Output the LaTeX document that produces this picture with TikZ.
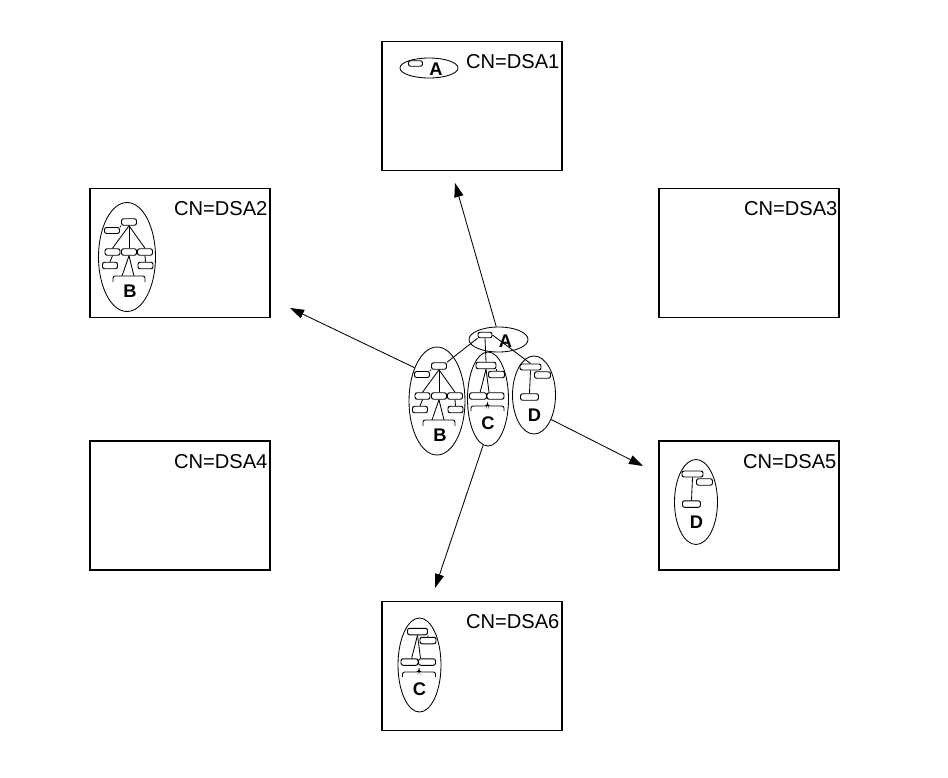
\documentclass[tikz,border=0pt]{standalone}
\usepackage{fontspec}
\setmainfont{Liberation Sans}
\usetikzlibrary{positioning,calc,arrows.meta,shapes.geometric}

\begin{document}
\begin{tikzpicture}[x=0.025cm, y=-0.025cm,
    every node/.style={font=\fontsize{14.3}{16}\selectfont},
    dsa/.style={rectangle, draw, line width=0.9pt, minimum width=4.5cm, minimum height=3.22cm, inner sep=0pt},
    cn/.style={inner sep=0pt},
    ell/.style 2 args={ellipse, draw, line width=0.6pt, minimum width=#1*0.025cm, minimum height=#2*0.025cm, inner sep=0pt},
    leaf/.style 2 args={rectangle, draw, rounded corners=1.5pt, fill=white, line width=0.7pt, minimum width=#1*0.025cm, minimum height=#2*0.025cm, inner sep=0pt},
    tag/.style={font=\fontsize{13}{15}\selectfont\bfseries, inner sep=0pt},
    link/.style={line width=0.6pt},
    arr/.style={-{Triangle[length=10pt,width=6.5pt]}, line width=0.6pt},
    treeA/.pic={
      \node[leaf={14}{5.5}] (-r) at (-13.5,-4.5) {};
      \node[tag] (-lbl) at (7,1.5) {A};
    },
    treeB/.pic={
      \node[leaf={15}{6.5}] (-r) at (2,-35) {};
      \node[leaf={15}{6}] (-l) at (-15,-26.5) {};
      \node[leaf={15}{6.5}] (-m1) at (-14.5,-5) {};
      \node[leaf={15}{6.5}] (-m2) at (2,-5) {};
      \node[leaf={15}{6.5}] (-m3) at (18,-5) {};
      \node[leaf={15}{6.5}] (-b1) at (-17,8.5) {};
      \node[leaf={15}{6.5}] (-b3) at (18.5,8.5) {};
      \coordinate (-kl) at (-5,19);
      \coordinate (-kr) at (7,19);
      \draw[link] (-r.south west) -- (-l.north east);
      \draw[link] (-r.south) -- (-m1.north);
      \draw[link] (-r.south) -- (-m2.north);
      \draw[link] (-r.south) -- (-m3.north);
      \draw[link] (-m1.south) -- (-b1.north);
      \draw[link] (-m3.south) -- (-b3.north);
      \draw[link] (-m2.south) -- (-kl);
      \draw[link] (-m2.south) -- (-kr);
      \draw[link, rounded corners=1.5pt] (-14,25) |- (18,19) -- (18,25);
      \node[tag] (-lbl) at (3,34) {B};
    },
    treeC/.pic={
      \node[leaf={20}{6.5}] (-r) at (-2,-33.5) {};
      \node[leaf={16}{6.5}] (-c) at (8.5,-24.5) {};
      \node[leaf={17}{6.5}] (-m1) at (-10,-3) {};
      \node[leaf={17}{6.5}] (-m2) at (7.5,-3) {};
      \draw[link] (-r.south) -- (-m1.60);
      \draw[link] (-r.south) -- (-m2.150);
      \draw[link] (-r.south east) -- (-c.north);
      \draw[link, rounded corners=1.5pt] (-17,12) |- (-1,7) -- (-0.5,4) -- (0,7) -| (16,12);
      \node[tag] (-lbl) at (0,24) {C};
    },
    treeD/.pic={
      \node[leaf={21}{6}] (-r) at (-3.5,-28) {};
      \node[leaf={16}{6.5}] (-c) at (8.5,-20) {};
      \node[leaf={18}{6.5}] (-b) at (-4.5,2) {};
      \draw[link] (-r.south) -- (-b.north);
      \node[tag] (-lbl) at (0.5,20.5) {D};
    }
]
\useasboundingbox (0,0) rectangle (948,777);

% DSA boxes
\node[dsa] (dsa1) at (472,106) {};
\node[dsa] (dsa2) at (180,253) {};
\node[dsa] (dsa3) at (749,253) {};
\node[dsa] (dsa4) at (180,505.5) {};
\node[dsa] (dsa5) at (749,505.5) {};
\node[dsa] (dsa6) at (472,666) {};

% Names
\node[cn, below left=0.34cm and 0.075cm of dsa1.north east] (cn1) {CN=DSA1};
\node[cn, below left=0.34cm and 0.075cm of dsa2.north east] (cn2) {CN=DSA2};
\node[cn, below left=0.34cm and 0.05cm of dsa3.north east] (cn3) {CN=DSA3};
\node[cn, below left=0.34cm and 0.075cm of dsa4.north east] (cn4) {CN=DSA4};
\node[cn, below left=0.34cm and 0.075cm of dsa5.north east] (cn5) {CN=DSA5};
\node[cn, below left=0.34cm and 0.075cm of dsa6.north east] (cn6) {CN=DSA6};

% Ellipses
\node[ell={59}{25}] (ellA) at (498.5,339.5) {};
\node[ell={56}{108}] (ellB) at (437,401) {};
\node[ell={41}{94}] (ellC) at (488,399) {};
\node[ell={43}{78}] (ellD) at (534,395) {};
\node[ell={58}{20}] (ellA1) at (429,68) {};
\node[ell={57}{109}] (ellB2) at (127,257) {};
\node[ell={43}{94}] (ellC6) at (419.5,665) {};
\node[ell={43}{85}] (ellD5) at (696,502) {};

% Trees
\pic (tA) at (ellA.center) {treeA};
\pic (tB) at (ellB.center) {treeB};
\pic (tC) at (ellC.center) {treeC};
\pic (tD) at (ellD.center) {treeD};
\pic (tA1) at (ellA1.center) {treeA};
\pic (tB2) at (ellB2.center) {treeB};
\pic (tC6) at (ellC6.center) {treeC};
\pic (tD5) at (ellD5.center) {treeD};

% Links
\draw[link] (tA-r.south west) -- (tB-r.north east);
\draw[link] (tA-r.south) -- (tC-r.north);
\draw[link] (tA-r.east) -- (tD-r.north);

% Arrows
\coordinate (tip1) at (455,183);
\coordinate (tip2) at (290,308);
\coordinate (tip5) at (643,466);
\coordinate (tip6) at (435,588);
\draw[arr] (ellA.100) -- (tip1);
\draw[arr] (ellB.124) -- (tip2);
\draw[arr] (ellD.-55) -- (tip5);
\draw[arr] (ellC.-96) -- (tip6);

\end{tikzpicture}
\end{document}
